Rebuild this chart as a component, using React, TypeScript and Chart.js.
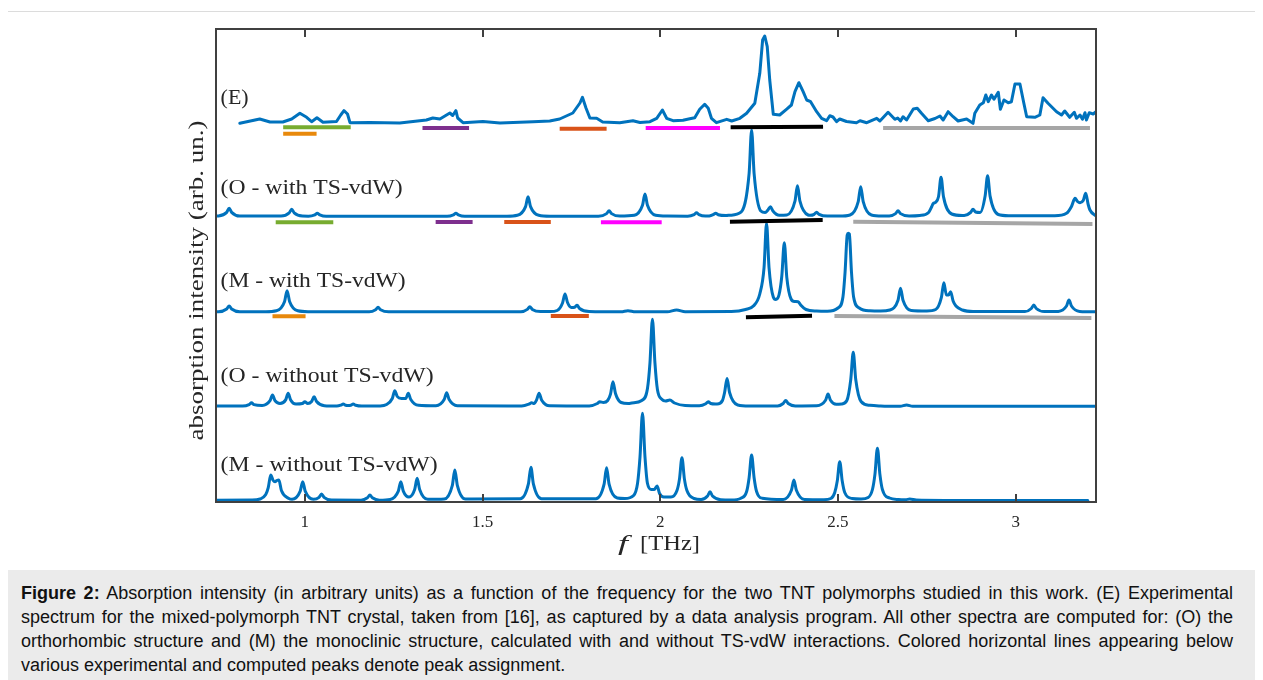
import React, { useEffect, useRef } from 'react';
import { Chart, registerables } from 'chart.js';

Chart.register(...registerables);

// ---------------- data ----------------
const X_TICKS = [1, 1.5, 2, 2.5, 3];
const X_TICK_LABELS = ['1', '1.5', '2', '2.5', '3'];

const SERIES_NAMES = ['(E)', '(O - with TS-vdW)', '(M - with TS-vdW)', '(O - without TS-vdW)', '(M - without TS-vdW)'];
// vertical offset of each spectrum's baseline (arb. un.)
const SERIES_OFFSETS = [3.8, 2.855, 1.9, 0.955, 0.015];

// experimental spectrum [f THz, intensity]
const E_SPECTRUM = [
  [0.817, -0.013], [0.873, 0.03], [0.902, 0], [0.938, 0], [0.963, 0.03], [0.986, 0.087], [1.005, 0.047], [1.019, 0.003],
  [1.034, 0.043], [1.051, -0.003], [1.089, 0.005], [1.101, 0.07], [1.11, 0.113], [1.12, 0.08], [1.127, -0.007], [1.183, -0.005],
  [1.267, -0.01], [1.342, 0.02], [1.36, 0.04], [1.38, 0.03], [1.408, 0.09], [1.416, 0.065], [1.425, 0.113], [1.43, 0.04],
  [1.445, -0.007], [1.501, 0.005], [1.549, -0.01], [1.642, 0.003], [1.689, 0.01], [1.717, 0.03], [1.754, 0.09], [1.774, 0.19],
  [1.781, 0.247], [1.791, 0.14], [1.802, 0.04], [1.821, 0.037], [1.838, 0], [1.886, -0.007], [1.923, 0.013], [1.943, -0.005],
  [1.971, 0.003], [1.99, 0.037], [2.006, 0.12], [2.018, 0.037], [2.036, 0.013], [2.064, 0.017], [2.083, 0.033], [2.097, 0.043],
  [2.111, 0.127], [2.125, 0.177], [2.135, 0.137], [2.144, 0.037], [2.158, -0.007], [2.187, 0.027], [2.201, 0.01], [2.224, 0.037],
  [2.243, 0.087], [2.266, 0.187], [2.28, 0.487], [2.288, 0.82], [2.294, 0.86], [2.301, 0.753], [2.308, 0.42], [2.318, 0.077],
  [2.336, 0.07], [2.355, 0.127], [2.369, 0.17], [2.379, 0.303], [2.39, 0.393], [2.402, 0.303], [2.412, 0.22], [2.423, 0.203],
  [2.44, 0.103], [2.454, 0.037], [2.468, 0.013], [2.477, 0.063], [2.486, 0.05], [2.496, 0.003], [2.505, 0.03], [2.524, 0.005],
  [2.552, -0.007], [2.562, 0.013], [2.581, -0.007], [2.609, 0.037], [2.618, 0.01], [2.641, 0.097], [2.66, 0.027], [2.668, 0.04],
  [2.676, 0.01], [2.683, 0.053], [2.693, 0.02], [2.712, 0.13], [2.723, 0.137], [2.735, 0.087], [2.754, 0.013], [2.773, 0.035],
  [2.787, 0.06], [2.796, 0.02], [2.81, 0.103], [2.824, 0.053], [2.838, 0.01], [2.862, 0.03], [2.88, -0.013], [2.885, 0.087],
  [2.899, 0.17], [2.909, 0.193], [2.916, 0.27], [2.923, 0.203], [2.932, 0.27], [2.939, 0.227], [2.951, 0.297], [2.957, 0.127],
  [2.967, 0.22], [2.979, 0.193], [2.988, 0.203], [2.998, 0.38], [3.012, 0.38], [3.023, 0.187], [3.031, 0.053], [3.054, 0.047],
  [3.068, 0.07], [3.077, 0.243], [3.091, 0.187], [3.115, 0.103], [3.129, 0.07], [3.138, 0.11], [3.152, 0.047], [3.165, 0.097],
  [3.171, 0.037], [3.181, 0.07], [3.188, 0.027], [3.195, 0.093], [3.199, 0.02], [3.207, 0.093], [3.218, 0.08], [3.226, 0.103],
];

// orthorhombic, with TS-vdW
const O_TS_SPECTRUM = [
  [0.75, 0.004], [0.757, 0.005], [0.78, 0.041], [0.787, 0.082], [0.794, 0.041], [0.817, 0.004],
  [0.933, 0.004], [0.956, 0.036], [0.963, 0.072], [0.97, 0.036], [0.993, 0.004],
  [1.01, 0.003], [1.028, 0.016], [1.035, 0.032], [1.042, 0.016], [1.06, 0.002],
  [1.4, 0.002], [1.418, 0.016], [1.425, 0.032], [1.432, 0.016], [1.45, 0.002],
  [1.568, 0.003], [1.598, 0.012], [1.621, 0.099], [1.628, 0.198], [1.635, 0.099], [1.658, 0.012], [1.69, 0.003],
  [1.826, 0.003], [1.849, 0.029], [1.856, 0.058], [1.863, 0.029], [1.886, 0.004],
  [1.927, 0.012], [1.95, 0.112], [1.957, 0.225], [1.964, 0.112], [1.987, 0.012], [2.02, 0.004],
  [2.077, 0.003], [2.095, 0.019], [2.102, 0.038], [2.109, 0.019], [2.127, 0.005],
  [2.138, 0.006], [2.149, 0.018], [2.156, 0.032], [2.163, 0.018], [2.185, 0.01],
  [2.197, 0.013], [2.227, 0.043], [2.25, 0.432], [2.257, 0.865], [2.264, 0.432], [2.283, 0.055], [2.295, 0.04],
  [2.303, 0.065], [2.31, 0.098], [2.317, 0.055], [2.335, 0.012],
  [2.356, 0.015], [2.379, 0.154], [2.386, 0.308], [2.393, 0.154], [2.416, 0.015],
  [2.422, 0.012], [2.433, 0.022], [2.44, 0.042], [2.447, 0.021], [2.47, 0.004],
  [2.504, 0.004], [2.534, 0.015], [2.557, 0.149], [2.564, 0.298], [2.571, 0.149], [2.594, 0.015], [2.624, 0.005],
  [2.644, 0.005], [2.662, 0.029], [2.669, 0.058], [2.676, 0.029], [2.7, 0.005],
  [2.73, 0.01], [2.755, 0.04], [2.764, 0.1], [2.768, 0.13], [2.774, 0.14], [2.783, 0.2], [2.79, 0.392], [2.797, 0.196],
  [2.82, 0.025], [2.85, 0.01],
  [2.855, 0.01], [2.873, 0.04], [2.88, 0.072], [2.887, 0.045], [2.9, 0.04], [2.914, 0.204], [2.921, 0.408], [2.928, 0.204],
  [2.951, 0.02], [2.98, 0.008],
  [3.11, 0.008], [3.143, 0.032], [3.157, 0.1], [3.167, 0.182], [3.174, 0.15], [3.181, 0.138], [3.19, 0.16], [3.197, 0.232],
  [3.204, 0.12], [3.209, 0.065], [3.226, 0.005],
];

// monoclinic, with TS-vdW
const M_TS_SPECTRUM = [
  [0.75, 0.003], [0.757, 0.003], [0.78, 0.03], [0.787, 0.06], [0.794, 0.03], [0.817, 0.003],
  [0.89, 0.003], [0.92, 0.012], [0.943, 0.106], [0.95, 0.213], [0.957, 0.106], [0.98, 0.012], [1.01, 0.003],
  [1.181, 0.002], [1.199, 0.023], [1.206, 0.047], [1.213, 0.023], [1.236, 0.002],
  [1.608, 0.002], [1.626, 0.026], [1.633, 0.053], [1.64, 0.026], [1.663, 0.004],
  [1.69, 0.004], [1.71, 0.015], [1.725, 0.09], [1.732, 0.18], [1.739, 0.095], [1.75, 0.045], [1.759, 0.048], [1.766, 0.067],
  [1.773, 0.035], [1.8, 0.005],
  [1.89, 0.002], [1.909, 0.013], [1.93, 0.002],
  [2.02, 0.002], [2.046, 0.02], [2.07, 0.003],
  [2.2, 0.005], [2.24, 0.025], [2.262, 0.06], [2.28, 0.18], [2.292, 0.444], [2.299, 0.887], [2.306, 0.444], [2.318, 0.15],
  [2.325, 0.125], [2.334, 0.17], [2.342, 0.36], [2.349, 0.693], [2.356, 0.347], [2.368, 0.13], [2.378, 0.105], [2.388, 0.103],
  [2.395, 0.07], [2.41, 0.025], [2.44, 0.01],
  [2.47, 0.008], [2.5, 0.04], [2.514, 0.15], [2.52, 0.4], [2.526, 0.77], [2.529, 0.787], [2.532, 0.78], [2.538, 0.4],
  [2.544, 0.15], [2.56, 0.04], [2.59, 0.012],
  [2.62, 0.01], [2.646, 0.02], [2.669, 0.118], [2.676, 0.237], [2.683, 0.118], [2.706, 0.015],
  [2.75, 0.01], [2.775, 0.025], [2.791, 0.146], [2.798, 0.293], [2.805, 0.17], [2.811, 0.17], [2.817, 0.203], [2.824, 0.11],
  [2.832, 0.06], [2.85, 0.02], [2.88, 0.005],
  [3.026, 0.004], [3.044, 0.035], [3.051, 0.07], [3.058, 0.035], [3.081, 0.004],
  [3.12, 0.006], [3.143, 0.06], [3.15, 0.12], [3.157, 0.06], [3.18, 0.006],
  [3.226, 0.002],
];

// orthorhombic, without TS-vdW
const O_NOTS_SPECTRUM = [
  [0.75, 0.004], [0.825, 0.004], [0.843, 0.019], [0.85, 0.038], [0.857, 0.019], [0.88, 0.01], [0.902, 0.058], [0.909, 0.115],
  [0.916, 0.058], [0.93, 0.03], [0.946, 0.066], [0.953, 0.132], [0.96, 0.066], [0.975, 0.025],
  [0.993, 0.03], [1.0, 0.048], [1.008, 0.03], [1.019, 0.05], [1.026, 0.098], [1.033, 0.05], [1.055, 0.008],
  [1.09, 0.004], [1.101, 0.013], [1.108, 0.025], [1.115, 0.013], [1.122, 0.01], [1.129, 0.013], [1.136, 0.025], [1.143, 0.013],
  [1.16, 0.004],
  [1.21, 0.006], [1.23, 0.02], [1.246, 0.08], [1.253, 0.158], [1.26, 0.1], [1.272, 0.08], [1.284, 0.08], [1.291, 0.132],
  [1.298, 0.07], [1.32, 0.012],
  [1.369, 0.007], [1.392, 0.069], [1.399, 0.138], [1.406, 0.069], [1.429, 0.007],
  [1.61, 0.005], [1.631, 0.025], [1.638, 0.038], [1.645, 0.03], [1.652, 0.066], [1.659, 0.132], [1.666, 0.066], [1.689, 0.007],
  [1.8, 0.005], [1.823, 0.03], [1.83, 0.048], [1.84, 0.04], [1.852, 0.06], [1.86, 0.124], [1.867, 0.248], [1.874, 0.13],
  [1.89, 0.04], [1.91, 0.03],
  [1.92, 0.035], [1.948, 0.06], [1.964, 0.18], [1.971, 0.436], [1.978, 0.872], [1.985, 0.436], [1.992, 0.17], [2.005, 0.07],
  [2.015, 0.055], [2.027, 0.065], [2.04, 0.035], [2.07, 0.01],
  [2.11, 0.008], [2.128, 0.028], [2.135, 0.048], [2.142, 0.03], [2.155, 0.025], [2.16, 0.025], [2.175, 0.06], [2.181, 0.14],
  [2.188, 0.28], [2.195, 0.14], [2.218, 0.015], [2.25, 0.005],
  [2.33, 0.005], [2.346, 0.03], [2.353, 0.06], [2.36, 0.03], [2.38, 0.006],
  [2.44, 0.007], [2.465, 0.062], [2.472, 0.125], [2.479, 0.062], [2.495, 0.022], [2.51, 0.025], [2.525, 0.06], [2.536, 0.27],
  [2.543, 0.542], [2.55, 0.27], [2.565, 0.05], [2.59, 0.012], [2.62, 0.005],
  [2.675, 0.002], [2.693, 0.015], [2.71, 0.003], [3.226, 0.002],
];

// monoclinic, without TS-vdW
const M_NOTS_SPECTRUM = [
  [0.75, 0.002], [0.85, 0.004], [0.874, 0.015], [0.89, 0.06], [0.897, 0.128], [0.904, 0.255], [0.911, 0.2], [0.916, 0.188],
  [0.921, 0.2], [0.927, 0.205], [0.934, 0.1], [0.955, 0.02],
  [0.964, 0.012], [0.987, 0.094], [0.994, 0.188], [1.001, 0.094], [1.024, 0.012],
  [1.04, 0.032], [1.047, 0.065], [1.054, 0.032], [1.075, 0.004],
  [1.158, 0.003], [1.176, 0.027], [1.183, 0.055], [1.19, 0.027], [1.21, 0.003],
  [1.24, 0.01], [1.263, 0.094], [1.27, 0.188], [1.277, 0.094], [1.293, 0.035], [1.309, 0.111], [1.316, 0.222], [1.323, 0.111],
  [1.346, 0.012],
  [1.392, 0.015], [1.415, 0.152], [1.422, 0.305], [1.429, 0.152], [1.452, 0.015],
  [1.606, 0.017], [1.629, 0.166], [1.636, 0.332], [1.643, 0.166], [1.666, 0.017],
  [1.819, 0.017], [1.842, 0.164], [1.849, 0.328], [1.856, 0.164], [1.879, 0.025],
  [1.9, 0.02], [1.925, 0.05], [1.936, 0.17], [1.943, 0.436], [1.95, 0.872], [1.957, 0.436], [1.964, 0.17], [1.975, 0.11],
  [1.983, 0.11], [1.991, 0.145], [1.998, 0.07], [2.01, 0.035], [2.03, 0.035],
  [2.047, 0.1], [2.054, 0.214], [2.061, 0.428], [2.068, 0.214], [2.075, 0.1], [2.095, 0.02],
  [2.115, 0.01], [2.133, 0.044], [2.14, 0.088], [2.147, 0.044], [2.17, 0.008],
  [2.2, 0.005], [2.227, 0.023], [2.243, 0.09], [2.25, 0.228], [2.257, 0.455], [2.264, 0.228], [2.271, 0.09], [2.287, 0.023],
  [2.346, 0.01], [2.369, 0.102], [2.376, 0.205], [2.383, 0.102], [2.406, 0.01],
  [2.46, 0.008], [2.48, 0.02], [2.491, 0.08], [2.498, 0.194], [2.505, 0.388], [2.512, 0.194], [2.519, 0.08], [2.54, 0.02],
  [2.565, 0.015], [2.585, 0.03], [2.597, 0.11], [2.604, 0.261], [2.611, 0.522], [2.618, 0.261], [2.625, 0.11], [2.645, 0.025],
  [2.67, 0.01],
  [2.69, 0.008], [2.702, 0.015], [2.72, 0.004], [2.8, 0.001], [3.203, 0.001],
];

// peak-assignment lines: [group, f start, level start, f end, level end]
const ASSIGNMENTS = [
  ['green', 0.939, 3.747, 1.129, 3.747],
  ['orange', 0.939, 3.683, 1.033, 3.683],
  ['purple', 1.331, 3.74, 1.462, 3.74],
  ['red', 1.717, 3.733, 1.849, 3.733],
  ['magenta', 1.959, 3.74, 2.168, 3.74],
  ['black', 2.198, 3.747, 2.458, 3.753],
  ['gray', 2.627, 3.74, 3.209, 3.74],
  ['green', 0.918, 2.797, 1.08, 2.797],
  ['purple', 1.368, 2.8, 1.472, 2.8],
  ['red', 1.561, 2.8, 1.692, 2.8],
  ['magenta', 1.833, 2.797, 2.004, 2.797],
  ['black', 2.196, 2.803, 2.457, 2.82],
  ['gray', 2.543, 2.803, 3.216, 2.78],
  ['orange', 0.909, 1.857, 1.002, 1.857],
  ['red', 1.692, 1.86, 1.799, 1.86],
  ['black', 2.241, 1.847, 2.427, 1.863],
  ['gray', 2.49, 1.86, 3.213, 1.84],
];

const CAPTION_HEAD = 'Figure 2:';
const CAPTION_LINES = [
  ' Absorption intensity (in arbitrary units) as a function of the frequency for the two TNT polymorphs studied in this work. (E) Experimental',
  'spectrum for the mixed-polymorph TNT crystal, taken from [16], as captured by a data analysis program. All other spectra are computed for: (O) the',
  'orthorhombic structure and (M) the monoclinic structure, calculated with and without TS-vdW interactions. Colored horizontal lines appearing below',
  'various experimental and computed peaks denote peak assignment.',
];

// ---------------- styles ----------------
const GROUP_COLORS: Record<string, string> = {
  green: '#77AC30',
  orange: '#E8890C',
  purple: '#7E2F8E',
  red: '#D95319',
  magenta: '#FF00FF',
  black: '#000000',
  gray: '#A6A6A6',
};
const LINE_BLUE = '#0072BD';
const TEXT_COLOR = '#262626';
const SERIF = '"Liberation Serif", "Times New Roman", serif';
const LABEL_X = 0.763;
const LABEL_LEVELS = [3.98, 3.08, 2.15, 1.2, 0.31];
const LABEL_WIDTHS = [28, 182, 185, 213, 217];

function drawStretched(ctx: CanvasRenderingContext2D, text: string, x: number, y: number, width: number, center = false) {
  const w = ctx.measureText(text).width;
  const s = width / w;
  ctx.save();
  ctx.translate(x, y);
  ctx.scale(s, 1);
  ctx.textAlign = 'left';
  ctx.textBaseline = 'alphabetic';
  ctx.fillText(text, center ? -w / 2 : 0, 0);
  ctx.restore();
}

const framePlugin = {
  id: 'frameAndText',
  afterDatasetsDraw(chart: any) {
    const { ctx, chartArea: a, scales } = chart;
    const xs = scales.x;
    const ys = scales.y;
    ctx.save();
    ctx.strokeStyle = '#404040';
    ctx.lineWidth = 2;
    ctx.strokeRect(a.left, a.top, a.right - a.left, a.bottom - a.top);
    ctx.beginPath();
    for (const t of X_TICKS) {
      const px = Math.round(xs.getPixelForValue(t));
      ctx.moveTo(px, a.top);
      ctx.lineTo(px, a.top + 8);
      ctx.moveTo(px, a.bottom);
      ctx.lineTo(px, a.bottom - 8);
    }
    ctx.stroke();

    ctx.fillStyle = TEXT_COLOR;
    ctx.font = `20px ${SERIF}`;
    SERIES_NAMES.forEach((name, i) => {
      drawStretched(ctx, name, xs.getPixelForValue(LABEL_X), ys.getPixelForValue(LABEL_LEVELS[i]), LABEL_WIDTHS[i]);
    });

    // y title
    ctx.save();
    ctx.translate(195, (a.top + a.bottom) / 2 + 15);
    ctx.rotate(-Math.PI / 2);
    ctx.font = `22px ${SERIF}`;
    drawStretched(ctx, 'absorption intensity (arb. un.)', 0, 0, 320, true);
    ctx.restore();

    // x title
    ctx.font = `italic 22px ${SERIF}`;
    drawStretched(ctx, 'f', 610, 538, 10);
    ctx.font = `22px ${SERIF}`;
    drawStretched(ctx, '[THz]', 632, 538, 60);
    ctx.restore();
  },
};

export default function App() {
  const ref = useRef<HTMLCanvasElement>(null);

  useEffect(() => {
    const canvas = ref.current;
    if (!canvas) return;
    const spectra = [E_SPECTRUM, O_TS_SPECTRUM, M_TS_SPECTRUM, O_NOTS_SPECTRUM, M_NOTS_SPECTRUM];
    const barSets = ASSIGNMENTS.map(([g, x1, y1, x2, y2]) => ({
      data: [{ x: x1 as number, y: y1 as number }, { x: x2 as number, y: y2 as number }],
      borderColor: GROUP_COLORS[g as string],
      borderWidth: 4,
      borderCapStyle: 'butt',
      showLine: true,
      pointRadius: 0,
      tension: 0,
    }));
    const specSets = spectra.map((pts, i) => ({
      data: pts.map(([f, v]) => ({ x: f, y: v + SERIES_OFFSETS[i] })),
      borderColor: LINE_BLUE,
      borderWidth: 3,
      borderJoinStyle: 'round',
      borderCapStyle: 'round',
      showLine: true,
      pointRadius: 0,
      tension: 0,
      cubicInterpolationMode: i === 0 ? 'default' : 'monotone',
    }));
    const chart = new Chart(canvas, {
      type: 'scatter',
      data: { datasets: [...barSets, ...specSets] as any },
      options: {
        responsive: false,
        animation: false,
        events: [],
        layout: { padding: { left: 208, right: 159, top: 17, bottom: 0 } },
        plugins: { legend: { display: false }, tooltip: { enabled: false } },
        scales: {
          x: {
            type: 'linear',
            min: 0.75,
            max: 3.226,
            afterBuildTicks: (axis: any) => {
              axis.ticks = X_TICKS.map((v) => ({ value: v }));
            },
            afterFit: (axis: any) => {
              axis.height = 68;
            },
            grid: { display: false, drawTicks: false },
            border: { display: false },
            ticks: {
              padding: 10,
              color: TEXT_COLOR,
              font: { family: SERIF, size: 17 },
              maxRotation: 0,
              callback: (_v: any, idx: number) => X_TICK_LABELS[idx],
            },
          },
          y: { type: 'linear', min: 0, max: 4.73, display: false },
        },
      },
      plugins: [framePlugin],
    } as any);
    return () => chart.destroy();
  }, []);

  const last = CAPTION_LINES.length - 1;
  return (
    <div style={{ marginTop: 3, marginLeft: -1, width: 1247, border: '1px solid #dcdcdc', background: '#fff' }}>
      <canvas ref={ref} width={1247} height={558} style={{ display: 'block' }} />
      <div
        style={{
          background: '#ebebeb',
          padding: '11px 0 30px 13px',
          fontFamily: '"Liberation Sans", Arial, sans-serif',
          fontSize: 18,
          lineHeight: '24px',
          color: '#111',
        }}
      >
        {CAPTION_LINES.map((line, i) => (
          <div
            key={i}
            style={{
              width: 1212,
              whiteSpace: i === last ? 'nowrap' : 'normal',
              textAlign: i === last ? 'left' : 'justify',
              textAlignLast: i === last ? 'left' : 'justify',
            }}
          >
            {i === 0 ? <b>{CAPTION_HEAD}</b> : null}
            {line}
          </div>
        ))}
      </div>
    </div>
  );
}
